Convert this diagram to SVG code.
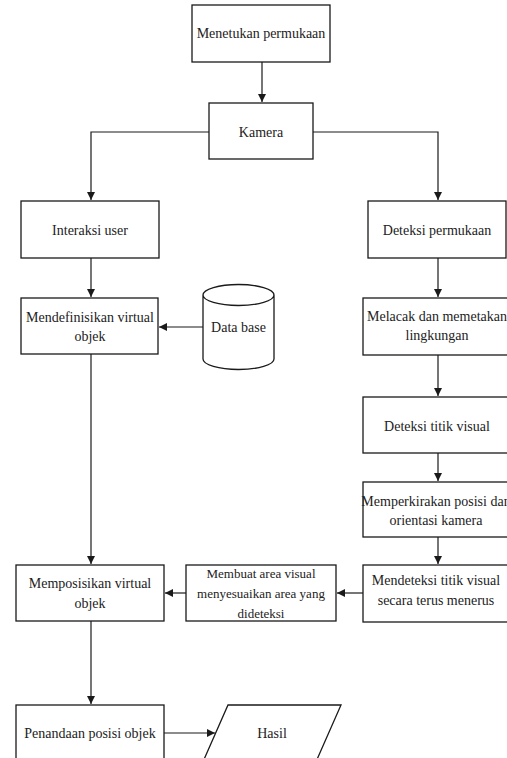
<svg xmlns="http://www.w3.org/2000/svg" width="507" height="758" viewBox="0 0 507 758">
<defs>
<style>
.box{fill:#fff;stroke:#1a1a1a;stroke-width:1.3}
.t{font-family:'Liberation Serif',Tinos,'Times New Roman',Times,'DejaVu Serif',serif;font-size:14px;fill:#222;text-anchor:middle}
.s{font-size:13px}
.c{fill:none;stroke:#1a1a1a;stroke-width:1.2}
</style>
<marker id="ah" markerWidth="9" markerHeight="9" refX="8" refY="4" orient="auto" markerUnits="userSpaceOnUse">
<path d="M0,0 L8,4 L0,8 z" fill="#1a1a1a"/>
</marker>
</defs>
<rect width="507" height="758" fill="#fff"/>
<g id="connectors">
<path class="c" d="M262,62 V102" marker-end="url(#ah)"/>
<path class="c" d="M209,132 H91 V200" marker-end="url(#ah)"/>
<path class="c" d="M313,132 H438 V200" marker-end="url(#ah)"/>
<path class="c" d="M91,258 V297" marker-end="url(#ah)"/>
<path class="c" d="M203,327 H159" marker-end="url(#ah)"/>
<path class="c" d="M438,258 V297" marker-end="url(#ah)"/>
<path class="c" d="M438,355 V396" marker-end="url(#ah)"/>
<path class="c" d="M438,453 V481" marker-end="url(#ah)"/>
<path class="c" d="M438,537 V564" marker-end="url(#ah)"/>
<path class="c" d="M91,354 V564" marker-end="url(#ah)"/>
<path class="c" d="M363,593 H337" marker-end="url(#ah)"/>
<path class="c" d="M186,593 H165" marker-end="url(#ah)"/>
<path class="c" d="M91,621 V704" marker-end="url(#ah)"/>
<path class="c" d="M164,733 H215" marker-end="url(#ah)"/>
</g>
<g id="n-menetukan"><rect class="box" x="192" y="5" width="138" height="57"/><text class="t" x="261" y="38" font-family="Liberation Serif, serif">Menetukan permukaan</text></g>
<g id="n-kamera"><rect class="box" x="209" y="103" width="104" height="56"/><text class="t" x="261" y="137">Kamera</text></g>
<g id="n-interaksi"><rect class="box" x="21" y="201" width="138" height="57"/><text class="t" x="90" y="235">Interaksi user</text></g>
<g id="n-deteksi-permukaan"><rect class="box" x="368" y="201" width="138" height="57"/><text class="t" x="437" y="235">Deteksi permukaan</text></g>
<g id="n-mendefinisikan"><rect class="box" x="21" y="298" width="137" height="56"/><text class="t" x="90" y="322">Mendefinisikan virtual</text><text class="t" x="90" y="341">objek</text></g>
<g id="n-database"><path class="box" d="M203,295 V359 A35.5,10.5 0 0 0 274,359 V295 A35.5,10.5 0 0 0 203,295 A35.5,10.5 0 0 0 274,295"/><text class="t" x="238.5" y="332">Data base</text></g>
<g id="n-melacak"><rect class="box" x="363" y="298" width="150" height="57"/><text class="t" x="437" y="321">Melacak dan memetakan</text><text class="t" x="437" y="340">lingkungan</text></g>
<g id="n-deteksi-titik"><rect class="box" x="363" y="397" width="150" height="56"/><text class="t" x="437" y="431">Deteksi titik visual</text></g>
<g id="n-memperkirakan"><rect class="box" x="363" y="482" width="150" height="55"/><text class="t" x="436" y="506">Memperkirakan posisi dan</text><text class="t" x="436" y="525">orientasi kamera</text></g>
<g id="n-mendeteksi"><rect class="box" x="363" y="565" width="150" height="57"/><text class="t" x="436" y="585">Mendeteksi titik visual</text><text class="t" x="436" y="605">secara terus menerus</text></g>
<g id="n-membuat"><rect class="box" x="186" y="565" width="150" height="56"/><text class="t s" x="261" y="578">Membuat area visual</text><text class="t s" x="261" y="598">menyesuaikan area yang</text><text class="t s" x="261" y="618">dideteksi</text></g>
<g id="n-memposisikan"><rect class="box" x="16" y="565" width="148" height="56"/><text class="t" x="90" y="588">Memposisikan virtual</text><text class="t" x="90" y="608">objek</text></g>
<g id="n-penandaan"><rect class="box" x="16" y="705" width="148" height="60"/><text class="t" x="90" y="738">Penandaan posisi objek</text></g>
<g id="n-hasil"><polygon class="box" points="228,705 341,705 315,764 202,764"/><text class="t" x="272" y="738">Hasil</text></g>
</svg>
